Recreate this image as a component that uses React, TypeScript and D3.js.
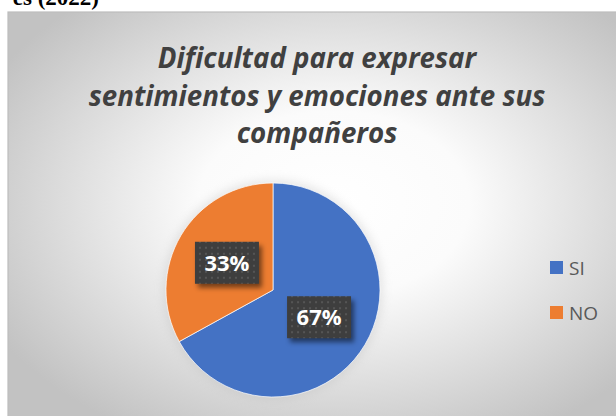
import * as d3 from "d3";

const W = 616;
const H = 416;

const CATEGORIES = ["SI", "NO"];
const VALUES = [67, 33];
const COLORS = ["#4472C4", "#ED7D31"];
const TITLE_LINES = ["Dificultad para expresar", "sentimientos y emociones ante sus", "compañeros"];

const CX = 273;
const CY = 290;
const R = 107;

export default function App() {
  const pie = d3.pie<number>().sort(null).value((d) => d);
  const arcs = pie(VALUES);
  const arc = d3.arc<d3.PieArcDatum<number>>().innerRadius(0).outerRadius(R);
  const total = d3.sum(VALUES);

  const legendY = d3.scalePoint<string>().domain(CATEGORIES).range([268, 313]);

  return (
    <svg
      width={W}
      height={H}
      style={{ position: "absolute", left: 0, top: 0 }}
      fontFamily="'Open Sans', sans-serif"
    >
      <defs>
        <radialGradient id="bg" cx="52%" cy="45%" r="62%">
          <stop offset="0%" stopColor="#ffffff" />
          <stop offset="35%" stopColor="#fbfbfb" />
          <stop offset="100%" stopColor="#c2c2c2" />
        </radialGradient>
        <pattern id="dots" width="6" height="6" patternUnits="userSpaceOnUse">
          <rect width="6" height="6" fill="#3e3e3e" />
          <rect x="2" y="2" width="2" height="2" fill="#555" />
        </pattern>
        <filter id="shadow" x="-20%" y="-20%" width="150%" height="150%">
          <feGaussianBlur stdDeviation="2.5" />
        </filter>
        <filter id="glow" x="-20%" y="-20%" width="140%" height="140%">
          <feGaussianBlur stdDeviation="5" />
        </filter>
      </defs>

      <rect width={W} height={H} fill="#fff" />
      <text
        x={99}
        y={4.5}
        textAnchor="end"
        fontFamily="'Liberation Serif', serif"
        fontWeight="bold"
        fontSize={23}
        fill="#000"
      >
        es (2022)
      </text>

      {/* chart area */}
      <rect x={8} y={12} width={W + 10} height={H + 10} fill="url(#bg)" stroke="#bdbdbd" strokeWidth={1.2} />

      {TITLE_LINES.map((t, i) => (
        <text
          key={i}
          x={317}
          y={68 + i * 37.5}
          textAnchor="middle"
          fontSize={27.7}
          fontWeight="bold"
          fontStyle="italic"
          fill="#404040"
        >
          {t}
        </text>
      ))}

      {/* pie */}
      <g transform={`translate(${CX},${CY})`}>
        <circle r={R + 3} fill="#bbb" opacity={0.35} filter="url(#glow)" />
        {arcs.map((a, i) => (
          <path key={i} d={arc(a) ?? ""} fill={COLORS[i]} stroke="#fff" strokeWidth={0.7} />
        ))}
        {arcs.map((a, i) => {
          const [x, y] = arc.centroid(a);
          const bw = 64;
          const bh = 42;
          const pct = Math.round((a.value / total) * 100) + "%";
          return (
            <g key={"l" + i} transform={`translate(${x},${y})`}>
              <rect x={-bw / 2 + 3} y={-bh / 2 + 4} width={bw} height={bh} fill="#000" opacity={0.5} filter="url(#shadow)" />
              <rect x={-bw / 2} y={-bh / 2} width={bw} height={bh} fill="url(#dots)" />
              <text y={8} textAnchor="middle" fontSize={22} fontWeight="bold" fill="#fff">
                {pct}
              </text>
            </g>
          );
        })}
      </g>

      {/* legend */}
      {CATEGORIES.map((c, i) => (
        <g key={c} transform={`translate(550,${legendY(c)})`}>
          <rect x={0} y={-7} width={13} height={13} fill={COLORS[i]} />
          <text x={19} y={7} fontSize={19} fill="#595959">
            {c}
          </text>
        </g>
      ))}
    </svg>
  );
}
